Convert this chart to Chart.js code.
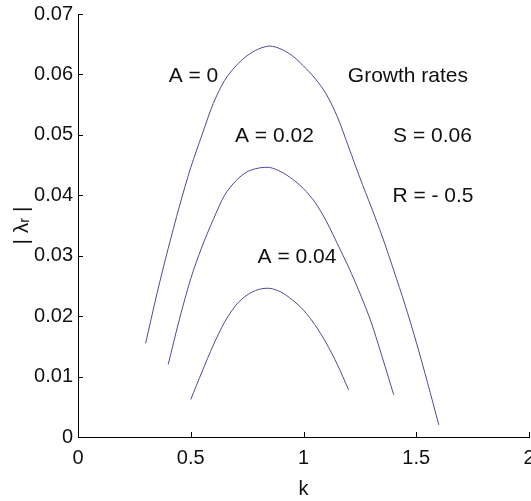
<!DOCTYPE html>
<html>
<head>
<meta charset="utf-8">
<script src="https://cdn.jsdelivr.net/npm/chart.js@4/dist/chart.umd.min.js"></script>
<style>
html,body{margin:0;padding:0;background:#fff;}
canvas{display:block;}
</style>
</head>
<body>
<canvas id="c" width="531" height="501"></canvas>
<script>
// ---- data ----
const kA0   = [0.30,0.35,0.40,0.45,0.50,0.55,0.60,0.65,0.70,0.75,0.80,0.85,0.90,0.95,1.00,1.05,1.10,1.15,1.20,1.25,1.30,1.35,1.40,1.45,1.50,1.55,1.60];
const lamA0 = [0.0155,0.0237,0.0312,0.0382,0.0446,0.0500,0.0552,0.0590,0.0614,0.0631,0.0642,0.0647,0.0642,0.0631,0.0614,0.0594,0.0568,0.0530,0.0480,0.0429,0.0381,0.0331,0.0276,0.0219,0.0157,0.0090,0.0020];

const kA002   = [0.40,0.45,0.50,0.55,0.60,0.65,0.70,0.75,0.80,0.85,0.90,0.95,1.00,1.05,1.10,1.15,1.20,1.25,1.30,1.35,1.40];
const lamA002 = [0.0120,0.0195,0.0262,0.0315,0.0360,0.0400,0.0424,0.0439,0.0445,0.0446,0.0439,0.0427,0.0411,0.0389,0.0358,0.0320,0.0281,0.0238,0.0190,0.0131,0.0070];

const kA004   = [0.50,0.55,0.60,0.65,0.70,0.75,0.80,0.85,0.90,0.95,1.00,1.05,1.10,1.15,1.20];
const lamA004 = [0.0062,0.0108,0.0152,0.0190,0.0218,0.0235,0.0244,0.0246,0.0240,0.0227,0.0210,0.0186,0.0156,0.0120,0.0078];

const xTickValues = [0,0.5,1,1.5,2];
const xTickLabels = ['0','0.5','1','1.5','2'];
const yTickValues = [0,0.01,0.02,0.03,0.04,0.05,0.06,0.07];
const yTickLabels = ['0','0.01','0.02','0.03','0.04','0.05','0.06','0.07'];

const noteTexts = ['A = 0','Growth rates','A = 0.02','S = 0.06','R = - 0.5','A = 0.04'];
const noteK     = [0.512,1.463,0.871,1.572,1.574,0.971];
const noteLam   = [0.0597,0.0597,0.0497,0.0497,0.0399,0.0298];

// ---- chart ----
const pts = (xs, ys) => xs.map((x, i) => ({x: x, y: ys[i]}));
const lineColor = '#4b4b96';
const FONT = "'Liberation Sans', Arial, Helvetica, sans-serif";

const series = [
  {label: 'A = 0',    data: pts(kA0, lamA0)},
  {label: 'A = 0.02', data: pts(kA002, lamA002)},
  {label: 'A = 0.04', data: pts(kA004, lamA004)}
].map(s => Object.assign(s, {
  showLine: true, borderColor: lineColor, borderWidth: 1,
  pointRadius: 0, tension: 0.3, fill: false
}));

const inwardTicks = {
  id: 'inwardTicks',
  afterDraw(chart) {
    const ctx = chart.ctx;
    const xs = chart.scales.x, ys = chart.scales.y;
    const area = chart.chartArea;
    ctx.save();
    ctx.strokeStyle = '#000';
    ctx.lineWidth = 1;
    ctx.beginPath();
    xTickValues.forEach(v => {
      const px = Math.round(xs.getPixelForValue(v)) + 0.5;
      ctx.moveTo(px, area.bottom);
      ctx.lineTo(px, area.bottom - 5);
    });
    yTickValues.forEach(v => {
      const py = Math.round(ys.getPixelForValue(v)) + 0.5;
      ctx.moveTo(area.left, py);
      ctx.lineTo(area.left + 5, py);
    });
    ctx.stroke();
    // annotations
    ctx.fillStyle = '#111';
    ctx.font = '21px ' + FONT;
    ctx.textAlign = 'center';
    ctx.textBaseline = 'middle';
    noteTexts.forEach((t, i) => {
      ctx.fillText(t, xs.getPixelForValue(noteK[i]), ys.getPixelForValue(noteLam[i]));
    });
    ctx.restore();
  }
};

new Chart(document.getElementById('c'), {
  type: 'scatter',
  data: {datasets: series},
  plugins: [inwardTicks],
  options: {
    responsive: false,
    animation: false,
    devicePixelRatio: 1,
    layout: {padding: {top: 14, right: 2, left: 0, bottom: 0}},
    plugins: {legend: {display: false}, tooltip: {enabled: false}},
    scales: {
      x: {
        type: 'linear', min: 0, max: 2,
        afterBuildTicks: s => { s.ticks = xTickValues.map(v => ({value: v})); },
        afterFit: s => { s.height = 64; s.paddingLeft = 0; s.paddingRight = 0; },
        grid: {display: false, drawTicks: false},
        border: {display: true, color: '#000', width: 1},
        ticks: {
          color: '#111', font: {family: FONT, size: 20}, padding: 9, maxRotation: 0,
          callback: (v, i) => xTickLabels[i]
        },
        title: {display: true, text: 'k', color: '#111', font: {family: FONT, size: 20}, padding: {top: 4, bottom: 0}}
      },
      y: {
        type: 'linear', min: 0, max: 0.07,
        afterBuildTicks: s => { s.ticks = yTickValues.map(v => ({value: v})); },
        afterFit: s => { s.width = 78; s.paddingTop = 0; s.paddingBottom = 0; },
        grid: {display: false, drawTicks: false},
        border: {display: true, color: '#000', width: 1},
        ticks: {
          color: '#111', font: {family: FONT, size: 20}, padding: 5,
          callback: (v, i) => yTickLabels[i]
        },
        title: {display: true, text: '| λᵣ |', color: '#111', font: {family: FONT, size: 21}, padding: {top: 10, bottom: 0}}
      }
    }
  }
});
</script>
</body>
</html>
